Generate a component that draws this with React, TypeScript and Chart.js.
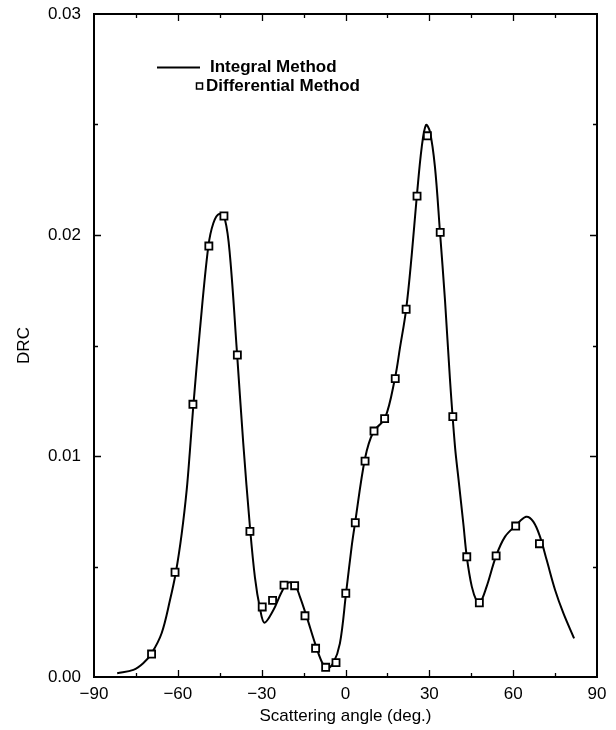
import React, { useEffect, useRef } from "react";
import { Chart, registerables } from "chart.js";

Chart.register(...registerables);

const curveAngle = [-81.7, -75.9, -72.4, -69.4, -65.8, -62.8, -60.7, -58.6, -56.8, -55.7, -54.5, -52.1, -49.1, -47.3, -45.2, -43.1, -41.3, -38.9, -36.6, -34.2, -32.4, -30.6, -29.0, -25.8, -22.8, -20.5, -18.1, -16.3, -13.9, -10.9, -8.5, -6.7, -4.4, -2.0, 0.2, 2.2, 3.4, 7.0, 10.0, 14.1, 17.7, 19.5, 21.7, 23.7, 25.5, 27.3, 28.8, 30.2, 32.0, 33.8, 35.6, 37.4, 39.2, 40.4, 42.2, 43.4, 45.2, 47.0, 48.1, 50.5, 53.9, 57.1, 60.9, 64.6, 67.2, 69.6, 72.0, 75.0, 78.0, 81.8];
const curveDRC = [0.00017, 0.00032, 0.00062, 0.00107, 0.00198, 0.00348, 0.00474, 0.0065, 0.0085, 0.0102, 0.0122, 0.0157, 0.01947, 0.02053, 0.02095, 0.02068, 0.019, 0.0148, 0.0106, 0.0068, 0.0045, 0.0031, 0.00246, 0.00303, 0.00386, 0.00427, 0.00416, 0.00363, 0.00273, 0.00152, 0.00069, 0.00039, 0.00062, 0.00152, 0.00379, 0.0059, 0.00695, 0.0099, 0.0111, 0.0117, 0.01352, 0.0149, 0.01664, 0.0191, 0.02173, 0.024, 0.02498, 0.02468, 0.02309, 0.02015, 0.01706, 0.01344, 0.0104, 0.009, 0.0069, 0.00544, 0.00409, 0.00341, 0.00333, 0.00409, 0.00548, 0.00635, 0.00685, 0.00725, 0.00703, 0.00635, 0.00529, 0.00394, 0.00288, 0.00175];

const pointAngle = [-69.4, -61.0, -54.6, -48.9, -43.5, -38.7, -34.2, -29.8, -26.1, -22.0, -18.2, -14.5, -10.7, -7.1, -3.4, 0.1, 3.5, 7.0, 10.2, 14.0, 17.8, 21.7, 25.6, 29.3, 33.9, 38.4, 43.4, 47.9, 53.9, 60.9, 69.4];
const pointDRC = [0.00104, 0.00474, 0.01234, 0.0195, 0.02086, 0.01457, 0.00659, 0.00317, 0.00347, 0.00416, 0.00413, 0.00277, 0.0013, 0.00044, 0.00065, 0.00379, 0.00698, 0.00977, 0.01113, 0.01169, 0.0135, 0.01664, 0.02176, 0.02449, 0.02012, 0.01178, 0.00544, 0.00336, 0.00548, 0.00683, 0.00603];

const seriesNames = ["Integral Method", "Differential Method"];
const xTickLabels = ["\u221290", "\u221260", "\u221230", "0", "30", "60", "90"];
const yTickLabels = ["0.00", "0.01", "0.02", "0.03"];

const FONT = '"Liberation Sans", Arial, Helvetica, sans-serif';

const isMajorX = (v: number) => Math.abs(v / 30 - Math.round(v / 30)) < 1e-6;
const isMajorY = (v: number) => Math.abs(v * 100 - Math.round(v * 100)) < 1e-6;

const framePlugin = {
  id: "frameAndLegend",
  afterDraw(chart: any) {
    const { ctx, chartArea } = chart;
    const { left, right, top, bottom } = chartArea;
    const xs = chart.scales.x;
    const ys = chart.scales.y;
    ctx.save();
    ctx.strokeStyle = "#000";
    ctx.lineWidth = 2;
    ctx.strokeRect(left, top, right - left, bottom - top);
    ctx.lineWidth = 1.3;
    ctx.beginPath();
    xs.ticks.forEach((t: any) => {
      const v = t.value;
      if (v <= xs.min || v >= xs.max) return;
      const px = Math.round(xs.getPixelForValue(v)) + 0.5;
      const len = isMajorX(v) ? 7 : 4;
      ctx.moveTo(px, bottom);
      ctx.lineTo(px, bottom - len);
      ctx.moveTo(px, top);
      ctx.lineTo(px, top + len);
    });
    ys.ticks.forEach((t: any) => {
      const v = t.value;
      if (v <= ys.min + 1e-9 || v >= ys.max - 1e-9) return;
      const py = Math.round(ys.getPixelForValue(v)) + 0.5;
      const len = isMajorY(v) ? 7 : 4;
      ctx.moveTo(left, py);
      ctx.lineTo(left + len, py);
      ctx.moveTo(right, py);
      ctx.lineTo(right - len, py);
    });
    ctx.stroke();

    // legend
    const ds = chart.data.datasets;
    ctx.fillStyle = "#000";
    ctx.font = `bold 17px ${FONT}`;
    ctx.textBaseline = "middle";
    ctx.textAlign = "left";
    ctx.lineWidth = 2;
    ctx.beginPath();
    ctx.moveTo(157, 67.5);
    ctx.lineTo(200, 67.5);
    ctx.stroke();
    ctx.fillText(ds[0].label, 210, 67);
    ctx.lineWidth = 1.5;
    ctx.fillStyle = "#fff";
    ctx.fillRect(196.5, 83, 6, 6);
    ctx.strokeRect(196.5, 83, 6, 6);
    ctx.fillStyle = "#000";
    ctx.fillText(ds[1].label, 206, 86);
    ctx.restore();
  },
};

export default function App() {
  const ref = useRef<HTMLCanvasElement | null>(null);
  useEffect(() => {
    if (!ref.current) return;
    const curve = curveAngle.map((x, i) => ({ x, y: curveDRC[i] }));
    const pts = pointAngle.map((x, i) => ({ x, y: pointDRC[i] }));
    const chart = new Chart(ref.current, {
      type: "scatter",
      data: {
        datasets: [
          {
            label: seriesNames[0],
            data: curve,
            showLine: true,
            borderColor: "#000",
            borderWidth: 2,
            pointRadius: 0,
            tension: 0.35,
            order: 2,
          },
          {
            label: seriesNames[1],
            data: pts,
            showLine: false,
            pointStyle: "rect",
            pointRadius: 5,
            pointBorderWidth: 1.8,
            pointBorderColor: "#000",
            pointBackgroundColor: "#fff",
            order: 1,
          },
        ],
      } as any,
      options: {
        animation: false,
        responsive: true,
        maintainAspectRatio: false,
        layout: { padding: { left: 0, top: 14, right: 19, bottom: 0 } },
        plugins: { legend: { display: false }, tooltip: { enabled: false } },
        scales: {
          x: {
            type: "linear",
            min: -90,
            max: 90,
            border: { display: false },
            grid: { display: false, drawTicks: false, tickLength: 0 },
            ticks: {
              stepSize: 15,
              autoSkip: false,
              maxRotation: 0,
              padding: 7,
              color: "#000",
              font: { family: FONT, size: 17 },
              callback: (v: any) => (isMajorX(v) ? xTickLabels[Math.round((v + 90) / 30)] : ""),
            },
            title: {
              display: true,
              text: "Scattering angle (deg.)",
              color: "#000",
              font: { family: FONT, size: 17 },
              padding: { top: 0, bottom: 3 },
            },
            afterFit: (s: any) => {
              s.height = 53;
              s.paddingLeft = 0;
              s.paddingRight = 0;
            },
          },
          y: {
            type: "linear",
            min: 0,
            max: 0.03,
            border: { display: false },
            grid: { display: false, drawTicks: false, tickLength: 0 },
            ticks: {
              stepSize: 0.005,
              autoSkip: false,
              padding: 13,
              color: "#000",
              font: { family: FONT, size: 17 },
              callback: (v: any) => (isMajorY(v) ? yTickLabels[Math.round(v * 100)] : ""),
            },
            title: {
              display: true,
              text: "DRC",
              color: "#000",
              font: { family: FONT, size: 17 },
              padding: { top: 14, bottom: 0 },
            },
            afterFit: (s: any) => {
              s.width = 94;
              s.paddingTop = 0;
              s.paddingBottom = 0;
            },
          },
        },
      } as any,
      plugins: [framePlugin],
    });
    return () => chart.destroy();
  }, []);
  return (
    <div style={{ position: "fixed", left: 0, top: 0, width: 616, height: 730, background: "#fff" }}>
      <canvas ref={ref} />
    </div>
  );
}
